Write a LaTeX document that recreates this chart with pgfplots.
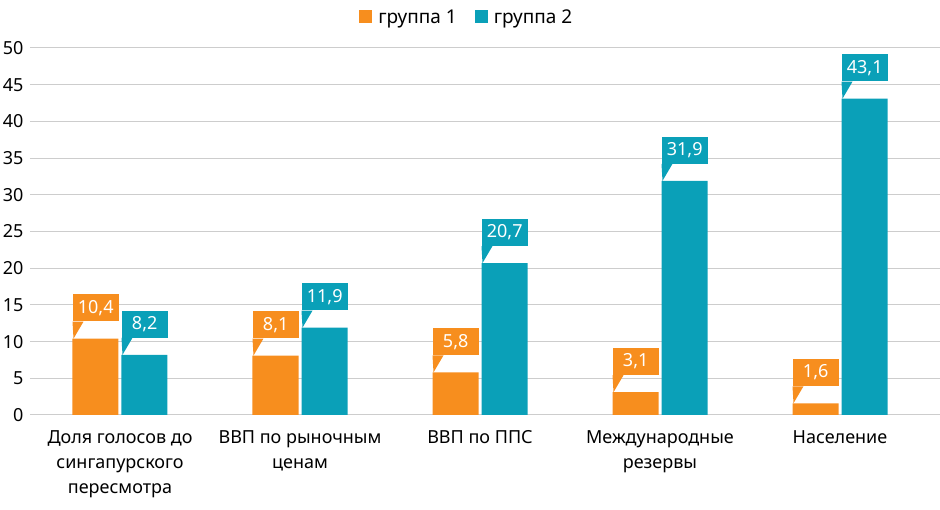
\documentclass[border=0pt]{standalone}
\usepackage{pgfplots}
\pgfplotsset{compat=1.18}
\usepackage{fontspec}
\setmainfont{Noto Sans}
\definecolor{orangeC}{RGB}{247,142,30}
\definecolor{tealC}{RGB}{10,160,184}
\definecolor{gridC}{RGB}{205,205,205}
\newcommand{\cf}{\fontsize{18}{25}\selectfont}
\tikzset{
  callout/.style={fill=#1, text=white, font=\cf, inner sep=0pt,
    minimum width=46pt, minimum height=27pt, anchor=south west,
    xshift=-23pt, yshift=17pt,
    append after command={\pgfextra{\fill[#1] (\tikzlastnode.south west) -- ++(11pt,0pt) -- ++(-10pt,-17pt) -- cycle;}}}
}
\begin{document}
\begin{tikzpicture}
\useasboundingbox (-30pt,-95pt) rectangle (910pt,415pt);
\begin{axis}[
  at={(0pt,0pt)}, anchor=south west,
  scale only axis, width=910pt, height=367pt,
  xmin=-0.5, xmax=4.5556, ymin=0, ymax=50,
  ybar=3pt, bar width=46pt,
  ytick={0,5,...,50},
  xtick={0,1,2,3,4},
  xticklabels={{Доля голосов до\\сингапурского\\пересмотра},{ВВП по рыночным\\ценам},{ВВП по ППС},{Международные\\резервы},{Население}},
  xticklabel style={align=center, font=\cf, yshift=-12pt},
  yticklabel style={font=\cf, xshift=-3pt},
  /pgf/number format/assume math mode=true,
  major tick length=0pt,
  axis line style={draw=none},
  ymajorgrids, grid style={gridC, line width=1pt},
  nodes near coords={\pgfmathprintnumber[fixed,fixed zerofill,precision=1,use comma]{\pgfplotspointmeta}},
  legend columns=2,
  legend style={draw=none, fill=none, at={(0.48,1)}, anchor=center, yshift=31pt, font=\fontsize{19}{25}\selectfont,
    /tikz/every odd column/.append style={column sep=4pt},
    /tikz/every even column/.append style={column sep=16pt}},
  legend image code/.code={\fill[#1] (0pt,-6pt) rectangle (13pt,7pt);},
]
\addplot[draw=none, fill=orangeC, nodes near coords style={callout=orangeC}] coordinates {(0,10.4) (1,8.1) (2,5.8) (3,3.1) (4,1.6)};
\addplot[draw=none, fill=tealC, nodes near coords style={callout=tealC}] coordinates {(0,8.2) (1,11.9) (2,20.7) (3,31.9) (4,43.1)};
\legend{группа 1, группа 2}
\end{axis}
\end{tikzpicture}
\end{document}
